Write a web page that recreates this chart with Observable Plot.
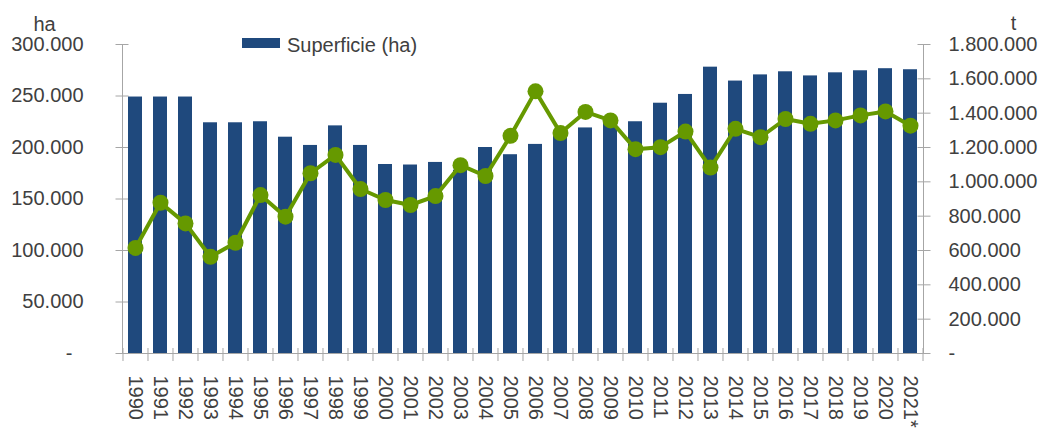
<!DOCTYPE html>
<html><head><meta charset="utf-8">
<script src="https://cdn.jsdelivr.net/npm/d3@7"></script>
<script src="https://cdn.jsdelivr.net/npm/@observablehq/plot@0.6"></script>
<style>
body{margin:0;background:#fff;}
#wrap{position:relative;width:1046px;height:430px;font-family:"Liberation Sans",Arial,sans-serif;}
#sw{position:absolute;left:242px;top:38px;width:38px;height:10px;background:#1f497d;}
#lt{position:absolute;left:287px;top:35px;font-size:20px;line-height:20px;color:#404040;white-space:nowrap;}
#chart{position:absolute;left:0;top:0;}
</style></head><body>
<div id="wrap"><div id="chart"></div><div id="sw"></div><div id="lt">Superficie (ha)</div></div>
<script>
const years = ["1990","1991","1992","1993","1994","1995","1996","1997","1998","1999","2000","2001","2002","2003","2004","2005","2006","2007","2008","2009","2010","2011","2012","2013","2014","2015","2016","2017","2018","2019","2020","2021*"];
const superficieHa = [249000,249000,249000,224000,224000,225000,210000,202000,221000,202000,183500,183000,185500,178000,200000,193000,203000,211000,219000,224000,225000,243000,251500,278000,264500,270500,273500,269500,272500,274500,276500,275500];
const produccionT = [615000,878000,758000,563000,645000,923000,797000,1050000,1157000,958000,894000,865000,917000,1097000,1034000,1268000,1527000,1284000,1407000,1358000,1190000,1202000,1293000,1083000,1309000,1260000,1366000,1338000,1358000,1387000,1410000,1327000];
const haTicks = [0,50000,100000,150000,200000,250000,300000];
const tTicks = [0,200000,400000,600000,800000,1000000,1200000,1400000,1600000,1800000];
const haMax = 300000, tMax = 1800000;
const ratio = haMax / tMax;

const loc = d3.formatLocale({decimal: ",", thousands: ".", grouping: [3], currency: ["", ""]});
const f = loc.format(",.0f");
const fmtLeft = v => v === 0 ? "-\u2007" : f(v);
const fmtRight = v => v === 0 ? "-" : f(v);

const data = years.map((y, i) => ({year: y, ha: superficieHa[i], t: produccionT[i]}));

const W = 1046, H = 430, mL = 122, mR = 123, mT = 44, mB = 77;
const step = (W - mL - mR) / years.length;
const axisGray = "#a6a6a6";
const textCol = "#404040";
const font = "Liberation Sans, Arial, sans-serif";

const chart = Plot.plot({
  width: W, height: H,
  marginLeft: mL, marginRight: mR, marginTop: mT, marginBottom: mB,
  style: {fontFamily: font, fontSize: "20px", color: textCol, background: "#fff"},
  x: {type: "band", domain: years, paddingInner: 0.44, paddingOuter: 0.22, axis: null},
  y: {domain: [0, haMax], axis: null},
  marks: [
    Plot.axisY(haTicks, {anchor: "left", tickSize: 13, dx: 6.5, tickPadding: 32.5, tickFormat: fmtLeft, stroke: axisGray, fill: textCol, fontSize: 20, label: null}),
    Plot.axisY(tTicks.map(v => v * ratio), {anchor: "right", tickSize: 13, dx: -6.5, tickPadding: 18.5, tickFormat: v => fmtRight(Math.round(v / ratio)), stroke: axisGray, fill: textCol, fontSize: 20, label: null}),
    Plot.ruleX(years, {x: d => d, dx: -step / 2, stroke: axisGray, insetTop: (H - mT - mB) - 5, insetBottom: -8}),
    Plot.ruleX(years.slice(-1), {x: d => d, dx: step / 2, stroke: axisGray, insetTop: (H - mT - mB) - 5, insetBottom: -8}),
    Plot.frame({anchor: "left", stroke: axisGray}),
    Plot.frame({anchor: "right", stroke: axisGray}),
    Plot.ruleY([0], {stroke: axisGray, insetLeft: -6, insetRight: -6}),
    Plot.barY(data, {x: "year", y: "ha", fill: "#1f497d"}),
    Plot.line(data, {x: "year", y: d => d.t * ratio, stroke: "#669900", strokeWidth: 4}),
    Plot.dot(data, {x: "year", y: d => d.t * ratio, r: 8, fill: "#669900", stroke: "none"}),
    Plot.axisX({anchor: "bottom", tickRotate: 90, tickSize: 0, tickPadding: 22, fill: textCol, fontSize: 20, label: null}),
    Plot.text(["ha"], {frameAnchor: "top-left", dx: -78, dy: -28, fill: textCol, fontSize: 20, textAnchor: "middle"}),
    Plot.text(["t"], {frameAnchor: "top-right", dx: 90, dy: -29, fill: textCol, fontSize: 20, textAnchor: "middle"})
  ]
});
document.getElementById("chart").appendChild(chart);
</script>
</body></html>
